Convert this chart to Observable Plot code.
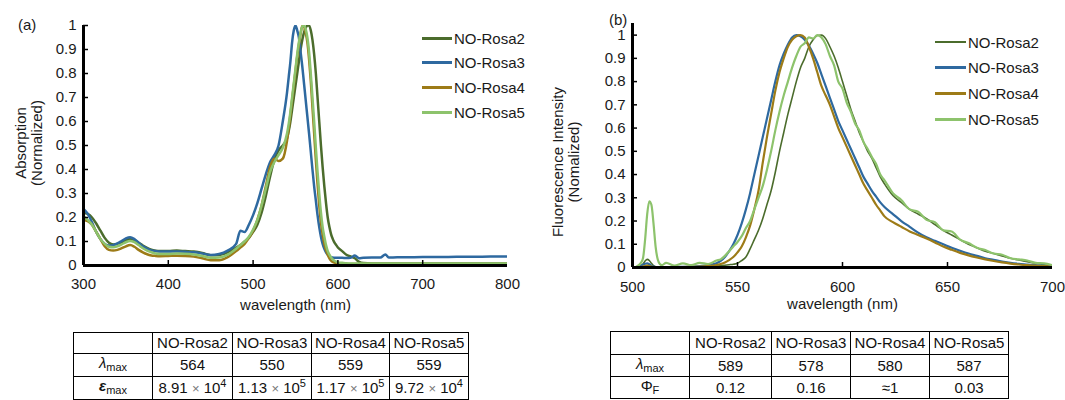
<!DOCTYPE html>
<html><head><meta charset="utf-8">
<script src="https://cdn.jsdelivr.net/npm/d3@7"></script>
<script src="https://cdn.jsdelivr.net/npm/@observablehq/plot@0.6"></script>
<style>
body{margin:0;background:#fff;font-family:"Liberation Sans",Arial,sans-serif;}
#root{position:relative;width:1065px;height:400px;overflow:hidden;background:#fff}
#root svg{position:absolute;top:0}
.lbl{position:absolute;font-size:15px;color:#1a1a1a;line-height:13px;z-index:2}
.ytitle{position:absolute;font-size:15px;color:#1a1a1a;line-height:16px;z-index:2;white-space:nowrap;text-align:center;transform:translate(-50%,-50%) rotate(-90deg)}
.legend{position:absolute;font-size:15px;color:#1a1a1a;z-index:2}
.legend div{position:absolute;left:0;height:20px;display:flex;align-items:center;white-space:nowrap}
.legend span.sw{display:inline-block;height:3px;margin-right:2px}
table{position:absolute;border-collapse:collapse;font-size:15px;color:#111;table-layout:fixed;z-index:2}
td{border:1px solid #000;text-align:center;padding:0;white-space:nowrap;overflow:hidden;line-height:16px}
td sub{font-size:11px;vertical-align:-3px}
td sup{font-size:11px;vertical-align:6px;line-height:0}
.x{color:#777;font-size:13px}
</style></head>
<body><div id="root"></div>
<script>
const series = ["NO-Rosa2","NO-Rosa3","NO-Rosa4","NO-Rosa5"];
const colors = ["#4b6c2c","#2e69a0","#9d7b17","#8dc36c"];

// Absorption (panel a)
const absNm = [300,305,310,315,320,325,330,335,340,345,350,355,360,365,370,375,380,385,390,
  400,410,420,430,440,450,460,470,480,
  485,490,495,500,505,510,515,520,525,530,535,
  540,542,544,546,548,550,552,554,556,558,560,562,564,566,568,570,572,574,576,578,580,582,584,586,588,590,592,594,596,598,600,
  605,610,615,620,625,630,640,650,656,660,670,680,700,720,740,760,780,800];
const absRosa2 = [.22,.215,.2,.175,.145,.115,.095,.088,.09,.097,.105,.11,.105,.095,.083,.073,.066,.062,.06,
  .06,.062,.06,.058,.052,.043,.044,.055,.075,
  .085,.1,.115,.14,.17,.22,.29,.37,.44,.48,.5,
  .53,.56,.6,.65,.7,.75,.8,.85,.9,.94,.97,.99,1,1,.98,.94,.88,.8,.7,.6,.5,.41,.33,.26,.2,.16,.13,.11,.095,.085,.075,
  .06,.045,.038,.03,.015,.01,.008,.008,.008,.008,.008,.008,.008,.008,.008,.008,.008,.008];
const absRosa3 = [.236,.215,.18,.14,.11,.09,.083,.085,.092,.102,.113,.118,.11,.095,.08,.07,.063,.06,.058,
  .058,.058,.057,.055,.05,.044,.048,.062,.09,
  .145,.14,.17,.21,.26,.32,.38,.43,.46,.5,.6,
  .72,.785,.85,.93,.98,1,.98,.95,.89,.83,.76,.69,.62,.55,.475,.4,.33,.27,.21,.16,.12,.09,.07,.055,.045,.038,.034,.033,.032,.032,.032,
  .032,.031,.032,.042,.03,.032,.033,.033,.046,.033,.034,.034,.035,.035,.036,.036,.037,.037];
const absRosa4 = [.19,.185,.17,.14,.11,.08,.065,.062,.065,.072,.08,.085,.078,.065,.055,.047,.042,.04,.039,
  .04,.041,.04,.037,.03,.022,.022,.035,.06,
  .075,.09,.115,.145,.19,.25,.33,.41,.445,.435,.445,
  .52,.57,.63,.69,.75,.81,.87,.92,.965,.998,.995,.97,.93,.86,.77,.66,.55,.44,.34,.25,.18,.13,.09,.065,.045,.03,.02,.015,.012,.01,.008,
  .007,.006,.006,.006,.006,.006,.006,.006,.006,.006,.006,.006,.006,.006,.006,.006,.006,.006];
const absRosa5 = [.205,.19,.17,.14,.11,.09,.078,.076,.08,.088,.097,.102,.097,.085,.072,.062,.055,.05,.048,
  .048,.05,.049,.046,.04,.032,.033,.045,.07,
  .085,.1,.12,.15,.19,.25,.32,.39,.43,.46,.49,
  .55,.59,.64,.7,.76,.82,.88,.93,.97,.995,1,.985,.95,.89,.8,.7,.6,.49,.39,.3,.22,.16,.12,.085,.06,.045,.033,.025,.02,.016,.013,
  .011,.009,.008,.008,.008,.008,.008,.008,.008,.008,.008,.008,.008,.008,.008,.008,.008,.008];

// Fluorescence (panel b)
const flNm = [500,501,502,503,504,505,506,507,508,509,510,511,512,513,514,
  516,520,524,528,532,536,540,
  542,544,546,548,550,552,554,556,558,560,562,564,566,568,570,572,574,576,578,580,582,584,586,588,590,592,594,596,598,600,602,604,606,608,610,612,614,616,618,620,
  624,628,632,636,640,644,648,652,656,660,664,668,672,676,680,684,688,692,696,700];
const flRosa2 = [0,0,0,.003,.008,.015,.028,.035,.03,.018,.008,.003,.001,0,0,
  .001,0,.001,.002,.002,.004,.006,
  .008,.01,.012,.014,.018,.03,.045,.08,.12,.16,.21,.27,.33,.41,.5,.58,.66,.73,.8,.86,.9,.95,.98,.998,1,.985,.95,.91,.86,.8,.74,.68,.63,.58,.54,.5,.47,.43,.39,.36,
  .31,.28,.25,.23,.21,.185,.16,.14,.12,.1,.085,.07,.06,.05,.04,.032,.025,.018,.012,.008];
const flRosa3 = [0,0,.002,.004,.008,.012,.016,.018,.014,.008,.004,.002,.001,0,0,
  .001,.002,.003,.004,.006,.01,.018,
  .028,.045,.07,.1,.14,.19,.25,.32,.4,.48,.56,.64,.72,.8,.87,.92,.96,.99,1,.995,.98,.955,.92,.88,.83,.78,.73,.68,.63,.59,.55,.51,.47,.43,.39,.36,.33,.305,.28,.26,
  .23,.2,.175,.15,.13,.115,.1,.085,.072,.06,.05,.04,.033,.026,.02,.016,.013,.01,.008,.006];
const flRosa4 = [0,0,0,0,.002,.004,.006,.008,.006,.004,.002,0,0,0,0,
  0,.001,.002,.003,.004,.006,.01,
  .015,.022,.032,.045,.065,.09,.13,.18,.25,.33,.45,.56,.66,.76,.84,.9,.95,.98,.995,1,.99,.95,.9,.84,.78,.74,.7,.65,.6,.56,.52,.48,.44,.4,.36,.33,.3,.27,.245,.22,
  .195,.175,.155,.14,.125,.108,.09,.076,.063,.052,.043,.035,.028,.022,.017,.013,.01,.008,.006,.005];
const flRosa5 = [0,0,.005,.01,.02,.04,.12,.23,.285,.27,.19,.09,.035,.015,.01,
  .02,.008,.018,.01,.02,.015,.03,
  .035,.05,.07,.09,.11,.135,.17,.2,.25,.3,.35,.42,.5,.59,.67,.74,.8,.86,.91,.95,.965,.99,.985,1,.99,.96,.91,.87,.8,.77,.71,.67,.62,.59,.54,.51,.475,.445,.4,.375,
  .32,.29,.25,.24,.205,.195,.16,.155,.12,.105,.085,.075,.06,.055,.04,.035,.03,.02,.018,.01];

const absTicksX = [300,400,500,600,700,800];
const flTicksX = [500,550,600,650,700];
const yTicks = [0,0.1,0.2,0.3,0.4,0.5,0.6,0.7,0.8,0.9,1];

// Tables
const lambdaAbs = ["564","550","559","559"];
const epsMant = ["8.91","1.13","1.17","9.72"];
const epsExp = ["4","5","5","4"];
const lambdaFl = ["589","578","580","587"];
const phiF = ["0.12","0.16","≈1","0.03"];

const root = document.getElementById("root");
const absVals = [absRosa2,absRosa3,absRosa4,absRosa5];
const flVals = [flRosa2,flRosa3,flRosa4,flRosa5];

function panel(o) {
  const innerW = o.width - o.mL - o.mR, innerH = o.height - o.mT - o.mB;
  const lines = series.map((s,i) => Plot.line(o.nm.map((x,j)=>({x, y:o.vals[i][j], s})),
      {x:"x", y:"y", stroke:"s", strokeWidth:o.lw[i], curve:"monotone-x", clip:true}));
  return Plot.plot({
    width:o.width, height:o.height,
    marginLeft:o.mL, marginRight:o.mR, marginTop:o.mT, marginBottom:o.mB,
    x:{domain:o.xDomain}, y:{domain:o.yDomain},
    color:{domain:series, range:colors},
    style:{fontFamily:"'Liberation Sans', Arial, sans-serif", fontSize:"15px", color:"#1a1a1a", background:"transparent"},
    marks:[
      ...lines,
      Plot.ruleX([o.xDomain[0]], {stroke:"#000", strokeWidth:3}),
      Plot.ruleY([0], {stroke:"#000", strokeWidth:3}),
      Plot.tickY(yTicks, {y:d=>d, insetRight:innerW-5, stroke:"#000", strokeWidth:1.5}),
      Plot.tickX(o.xTicks.slice(1,-1), {x:d=>d, insetTop:innerH-5, stroke:"#000", strokeWidth:1.5}),
      Plot.axisY({ticks:yTicks, tickSize:0, tickPadding:7, tickFormat:d=>String(d), label:null}),
      Plot.axisX({ticks:o.xTicks, tickSize:0, tickPadding:o.xPad, tickFormat:d=>String(d), label:null}),
      Plot.text([o.xTitle], {frameAnchor:"bottom", dy:o.xDy, fontSize:15, fill:"#1a1a1a"})
    ]
  });
}

const svgA = panel({nm:absNm, vals:absVals, lw:[2.5,2.5,2.5,2.5], xDomain:[300,800], yDomain:[0,1], xTicks:absTicksX,
  width:530, height:320, mL:83, mR:23, mT:25, mB:55, xPad:13, xTitle:"wavelength (nm)", xDy:44});
svgA.style.left = "0px";
root.appendChild(svgA);

const svgB = panel({nm:flNm, vals:flVals, lw:[1.6,2.2,2.2,2.2], xDomain:[500,700], yDomain:[0,1.05], xTicks:flTicksX,
  width:535, height:320, mL:102, mR:13, mT:23, mB:53, xPad:14, xTitle:"wavelength (nm)", xDy:41});
svgB.style.left = "530px";
root.appendChild(svgB);

function label(text, left, top) {
  const d = document.createElement("div"); d.className="lbl"; d.style.left=left+"px"; d.style.top=top+"px"; d.textContent=text; root.appendChild(d);
}
label("(a)", 18, 18);
label("(b)", 609, 13);

function ytitle(lines, cx, cy) {
  const d = document.createElement("div"); d.className="ytitle"; d.style.left=cx+"px"; d.style.top=cy+"px";
  d.innerHTML = lines.join("<br>"); root.appendChild(d);
}
ytitle(["Absorption","(Normalized)"], 29, 143);
ytitle(["Fluorescence Intensity","(Nomalized)"], 566, 162);

function legend(left, y0, step, sw, lws) {
  const L = document.createElement("div"); L.className="legend"; L.style.left=left+"px"; L.style.top="0px";
  series.forEach((s,i)=>{
    const r = document.createElement("div"); r.style.top=(y0+i*step-10)+"px";
    const w = document.createElement("span"); w.className="sw"; w.style.width=sw+"px"; w.style.height=lws[i]+"px"; w.style.background=colors[i];
    r.appendChild(w); r.appendChild(document.createTextNode(s)); L.appendChild(r);
  });
  root.appendChild(L);
}
legend(422, 38, 24.7, 30, [3,3,3,3]);
legend(935, 42, 25.7, 31, [2,3,3,3]);

function table(left, top, colW, rowH, rows) {
  const t = document.createElement("table");
  t.style.left=left+"px"; t.style.top=top+"px";
  t.style.width = colW.reduce((a,b)=>a+b,0)+"px";
  const cg = document.createElement("colgroup");
  colW.forEach(w=>{const c=document.createElement("col"); c.style.width=w+"px"; cg.appendChild(c);});
  t.appendChild(cg);
  rows.forEach((r,i)=>{
    const tr = document.createElement("tr"); tr.style.height=rowH[i]+"px";
    r.forEach(c=>{const td=document.createElement("td"); td.innerHTML=c; tr.appendChild(td);});
    t.appendChild(tr);
  });
  root.appendChild(t);
}
table(73, 332, [79,80,79,78,79], [21,23,23], [
  [""].concat(series),
  ["<i>λ</i><sub>max</sub>"].concat(lambdaAbs),
  ["<b><i>ε</i></b><sub>max</sub>"].concat(epsMant.map((m,i)=>m+" <span class='x'>×</span> 10<sup>"+epsExp[i]+"</sup>"))
]);
table(610, 331, [79,82,79,79,79], [23,22,22], [
  [""].concat(series),
  ["<i>λ</i><sub>max</sub>"].concat(lambdaFl),
  ["Φ<sub>F</sub>"].concat(phiF)
]);
</script>
</body></html>
